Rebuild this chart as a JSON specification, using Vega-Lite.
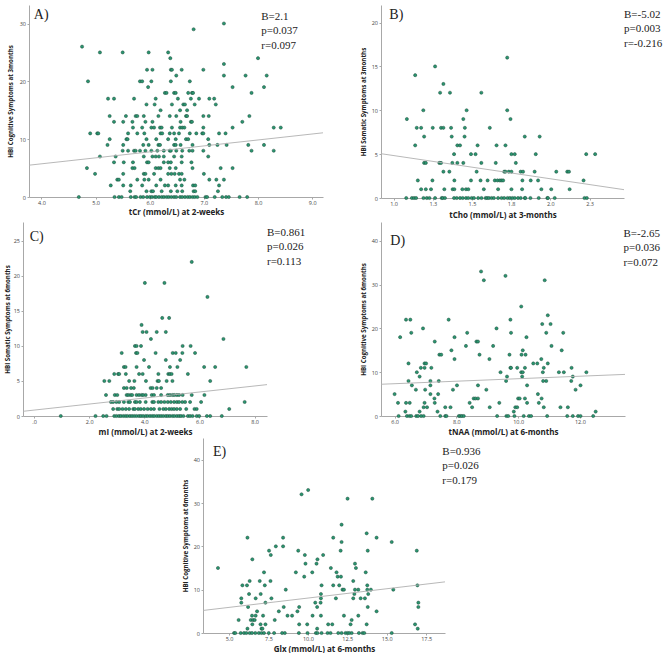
{
"$schema":"https://vega.github.io/schema/vega-lite/v6.json",
"padding":{"left":0,"top":5,"right":0,"bottom":0},
"config":{"view":{"stroke":null},
"axis":{"grid":false,"domainColor":"#a8a8a8","domainWidth":1,"tickColor":"#a8a8a8","tickSize":2,"labelFont":"Open Sans","labelFontSize":5.5,"labelColor":"#444444","labelPadding":1.5,"titleFont":"Open Sans","titleFontWeight":"bold","titleColor":"#222222"},
"axisX":{"titleFontSize":8,"titlePadding":2},
"axisY":{"titleFontSize":6.2,"titlePadding":5}},
"datasets":{
"A":[{"x":7.37,"y":30},{"x":6.81,"y":29},{"x":4.75,"y":26},{"x":5.08,"y":25},{"x":5.5,"y":25},{"x":5.98,"y":25},{"x":6.34,"y":25},{"x":6.38,"y":24},{"x":8.0,"y":24},{"x":7.37,"y":23},
{"x":5.95,"y":22},{"x":6.05,"y":22},{"x":6.39,"y":22},{"x":6.41,"y":22},{"x":6.59,"y":22},{"x":6.99,"y":22},
{"x":6.49,"y":21},{"x":7.37,"y":21},{"x":7.77,"y":21},{"x":8.16,"y":21},
{"x":4.86,"y":20},{"x":5.82,"y":20},{"x":5.86,"y":20},{"x":6.03,"y":20},{"x":6.39,"y":20},{"x":6.74,"y":20},
{"x":5.97,"y":19},{"x":7.53,"y":19},{"x":8.11,"y":19},
{"x":6.28,"y":18},{"x":6.31,"y":18},{"x":6.45,"y":18},{"x":6.48,"y":18},{"x":6.71,"y":18},{"x":6.78,"y":18},{"x":6.8,"y":18},{"x":7.88,"y":18},
{"x":5.23,"y":17},{"x":5.34,"y":17},{"x":5.71,"y":17},{"x":6.11,"y":17},{"x":6.52,"y":17},{"x":6.76,"y":17},{"x":6.91,"y":17},{"x":7.1,"y":17},{"x":7.19,"y":17},
{"x":5.94,"y":16},{"x":6.09,"y":16},{"x":6.41,"y":16},{"x":6.62,"y":16},{"x":6.65,"y":16},{"x":6.83,"y":16},{"x":7.22,"y":16},
{"x":6.2,"y":15},{"x":6.56,"y":15},{"x":6.69,"y":15},
{"x":5.26,"y":14},{"x":5.56,"y":14},{"x":5.74,"y":14},{"x":5.77,"y":14},{"x":5.89,"y":14},{"x":6.16,"y":14},{"x":6.37,"y":14},{"x":6.49,"y":14},{"x":6.67,"y":14},{"x":6.69,"y":14},{"x":6.99,"y":14},{"x":7.09,"y":14},{"x":7.84,"y":14},
{"x":5.34,"y":13},{"x":5.51,"y":13},{"x":5.68,"y":13},{"x":5.92,"y":13},{"x":6.05,"y":13},{"x":6.57,"y":13},{"x":6.76,"y":13},{"x":6.78,"y":13},{"x":7.71,"y":13},
{"x":5.69,"y":12},{"x":5.86,"y":12},{"x":6.03,"y":12},{"x":6.08,"y":12},{"x":6.19,"y":12},{"x":6.22,"y":12},{"x":6.41,"y":12},{"x":6.56,"y":12},{"x":6.6,"y":12},{"x":6.64,"y":12},{"x":6.99,"y":12},{"x":7.53,"y":12},{"x":8.29,"y":12},{"x":8.42,"y":12},
{"x":4.9,"y":11},{"x":5.03,"y":11},{"x":5.05,"y":11},{"x":5.6,"y":11},{"x":5.77,"y":11},{"x":5.9,"y":11},{"x":6.2,"y":11},{"x":6.23,"y":11},{"x":6.37,"y":11},{"x":6.45,"y":11},{"x":6.54,"y":11},{"x":6.74,"y":11},{"x":6.86,"y":11},{"x":6.97,"y":11},{"x":6.99,"y":11},{"x":7.28,"y":11},{"x":7.4,"y":11},
{"x":5.26,"y":10},{"x":5.57,"y":10},{"x":5.59,"y":10},{"x":5.94,"y":10},{"x":6.12,"y":10},{"x":6.34,"y":10},{"x":6.48,"y":10},{"x":6.67,"y":10},{"x":6.71,"y":10},{"x":7.08,"y":10},
{"x":5.22,"y":9},{"x":5.51,"y":9},{"x":5.88,"y":9},{"x":5.98,"y":9},{"x":6.16,"y":9},{"x":6.19,"y":9},{"x":6.45,"y":9},{"x":6.48,"y":9},{"x":6.57,"y":9},{"x":6.79,"y":9},{"x":7.1,"y":9},{"x":7.25,"y":9},{"x":7.42,"y":9},{"x":7.82,"y":9},{"x":8.11,"y":9},
{"x":5.5,"y":8},{"x":5.6,"y":8},{"x":5.71,"y":8},{"x":5.74,"y":8},{"x":5.82,"y":8},{"x":5.92,"y":8},{"x":6.03,"y":8},{"x":6.14,"y":8},{"x":6.26,"y":8},{"x":6.37,"y":8},{"x":6.39,"y":8},{"x":6.49,"y":8},{"x":6.6,"y":8},{"x":6.73,"y":8},{"x":6.79,"y":8},{"x":6.99,"y":8},{"x":7.88,"y":8},{"x":8.29,"y":8},
{"x":5.08,"y":7},{"x":5.37,"y":7},{"x":5.89,"y":7},{"x":6.05,"y":7},{"x":6.11,"y":7},{"x":6.17,"y":7},{"x":6.26,"y":7},{"x":6.45,"y":7},{"x":6.59,"y":7},{"x":7.08,"y":7},
{"x":5.34,"y":6},{"x":5.52,"y":6},{"x":5.69,"y":6},{"x":5.95,"y":6},{"x":5.98,"y":6},{"x":6.26,"y":6},{"x":6.34,"y":6},{"x":6.39,"y":6},{"x":6.59,"y":6},{"x":6.77,"y":6},
{"x":4.84,"y":5},{"x":5.68,"y":5},{"x":5.72,"y":5},{"x":6.11,"y":5},{"x":6.16,"y":5},{"x":6.2,"y":5},{"x":6.37,"y":5},{"x":6.48,"y":5},{"x":6.79,"y":5},{"x":7.31,"y":5},{"x":7.53,"y":5},
{"x":4.99,"y":4},{"x":5.51,"y":4},{"x":5.89,"y":4},{"x":5.92,"y":4},{"x":6.08,"y":4},{"x":6.34,"y":4},{"x":6.4,"y":4},{"x":6.46,"y":4},{"x":6.54,"y":4},{"x":6.59,"y":4},{"x":7.0,"y":4},
{"x":5.4,"y":3},{"x":5.43,"y":3},{"x":5.77,"y":3},{"x":5.9,"y":3},{"x":5.98,"y":3},{"x":6.2,"y":3},{"x":6.56,"y":3},{"x":6.64,"y":3},{"x":7.1,"y":3},{"x":7.23,"y":3},{"x":7.37,"y":3},
{"x":5.28,"y":2},{"x":5.51,"y":2},{"x":5.65,"y":2},{"x":5.86,"y":2},{"x":6.12,"y":2},{"x":6.28,"y":2},{"x":6.34,"y":2},{"x":6.48,"y":2},{"x":6.59,"y":2},{"x":6.8,"y":2},{"x":6.84,"y":2},{"x":7.28,"y":2},
{"x":5.64,"y":1},{"x":5.94,"y":1},{"x":6.03,"y":1},{"x":6.06,"y":1},{"x":6.22,"y":1},{"x":6.39,"y":1},{"x":6.51,"y":1},{"x":6.6,"y":1},{"x":6.81,"y":1},{"x":6.84,"y":1},{"x":7.26,"y":1},
{"x":4.69,"y":0},{"x":5.35,"y":0},{"x":5.43,"y":0},{"x":5.48,"y":0},{"x":5.65,"y":0},{"x":5.72,"y":0},{"x":5.75,"y":0},{"x":5.83,"y":0},{"x":5.88,"y":0},{"x":5.95,"y":0},{"x":6.0,"y":0},{"x":6.04,"y":0},{"x":6.09,"y":0},{"x":6.12,"y":0},{"x":6.17,"y":0},{"x":6.22,"y":0},{"x":6.26,"y":0},{"x":6.31,"y":0},{"x":6.35,"y":0},{"x":6.4,"y":0},{"x":6.45,"y":0},{"x":6.49,"y":0},{"x":6.56,"y":0},{"x":6.6,"y":0},{"x":6.65,"y":0},{"x":6.7,"y":0},{"x":6.74,"y":0},{"x":6.79,"y":0},{"x":6.83,"y":0},{"x":6.88,"y":0},{"x":7.03,"y":0},{"x":7.06,"y":0},{"x":7.2,"y":0},{"x":7.34,"y":0},{"x":7.41,"y":0},{"x":7.46,"y":0},{"x":7.66,"y":0},{"x":7.8,"y":0}],
"B":[{"x":1.725,"y":16},{"x":1.265,"y":15},{"x":1.138,"y":14},{"x":1.318,"y":13},{"x":1.297,"y":12},{"x":1.36,"y":12},{"x":1.56,"y":12},
{"x":1.19,"y":10},{"x":1.466,"y":10},{"x":1.725,"y":10},{"x":1.085,"y":9},{"x":1.445,"y":9},{"x":1.746,"y":9},
{"x":1.148,"y":8},{"x":1.176,"y":8},{"x":1.25,"y":8},{"x":1.303,"y":8},{"x":1.318,"y":8},{"x":1.367,"y":8},{"x":1.455,"y":8},{"x":1.614,"y":8},
{"x":1.195,"y":7},{"x":1.371,"y":7},{"x":1.453,"y":7},{"x":1.837,"y":7},{"x":1.932,"y":7},
{"x":1.138,"y":6},{"x":1.407,"y":6},{"x":1.424,"y":6},{"x":1.536,"y":6},{"x":1.657,"y":6},{"x":1.714,"y":6},
{"x":1.386,"y":5},{"x":1.494,"y":5},{"x":1.523,"y":5},{"x":1.752,"y":5},{"x":1.773,"y":5},{"x":1.907,"y":5},{"x":2.229,"y":5},{"x":2.286,"y":5},
{"x":1.195,"y":4},{"x":1.206,"y":4},{"x":1.292,"y":4},{"x":1.303,"y":4},{"x":1.375,"y":4},{"x":1.407,"y":4},{"x":1.445,"y":4},{"x":1.56,"y":4},{"x":1.652,"y":4},{"x":1.78,"y":4},
{"x":1.318,"y":3},{"x":1.356,"y":3},{"x":1.53,"y":3},{"x":1.706,"y":3},{"x":1.714,"y":3},{"x":1.735,"y":3},{"x":1.752,"y":3},{"x":1.811,"y":3},{"x":1.826,"y":3},{"x":1.9,"y":3},{"x":2.038,"y":3},{"x":2.108,"y":3},{"x":2.119,"y":3},
{"x":1.155,"y":2},{"x":1.248,"y":2},{"x":1.388,"y":2},{"x":1.494,"y":2},{"x":1.555,"y":2},{"x":1.6,"y":2},{"x":1.646,"y":2},{"x":1.663,"y":2},{"x":1.678,"y":2},{"x":1.689,"y":2},{"x":1.699,"y":2},{"x":1.822,"y":2},{"x":1.875,"y":2},{"x":1.922,"y":2},{"x":2.212,"y":2},
{"x":1.176,"y":1},{"x":1.206,"y":1},{"x":1.239,"y":1},{"x":1.324,"y":1},{"x":1.377,"y":1},{"x":1.388,"y":1},{"x":1.439,"y":1},{"x":1.462,"y":1},{"x":1.477,"y":1},{"x":1.576,"y":1},{"x":1.667,"y":1},{"x":1.752,"y":1},{"x":1.82,"y":1},{"x":1.943,"y":1},{"x":2.006,"y":1},{"x":2.123,"y":1},
{"x":1.081,"y":0},{"x":1.117,"y":0},{"x":1.131,"y":0},{"x":1.144,"y":0},{"x":1.191,"y":0},{"x":1.212,"y":0},{"x":1.229,"y":0},{"x":1.265,"y":0},{"x":1.307,"y":0},{"x":1.314,"y":0},{"x":1.328,"y":0},{"x":1.386,"y":0},{"x":1.403,"y":0},{"x":1.424,"y":0},{"x":1.441,"y":0},{"x":1.462,"y":0},{"x":1.477,"y":0},{"x":1.498,"y":0},{"x":1.513,"y":0},{"x":1.54,"y":0},{"x":1.561,"y":0},{"x":1.587,"y":0},{"x":1.597,"y":0},{"x":1.608,"y":0},{"x":1.625,"y":0},{"x":1.64,"y":0},{"x":1.667,"y":0},{"x":1.689,"y":0},{"x":1.706,"y":0},{"x":1.727,"y":0},{"x":1.742,"y":0},{"x":1.758,"y":0},{"x":1.773,"y":0},{"x":1.794,"y":0},{"x":1.811,"y":0},{"x":1.837,"y":0},{"x":1.841,"y":0},{"x":1.873,"y":0},{"x":1.926,"y":0},{"x":1.981,"y":0},{"x":1.985,"y":0},{"x":2.028,"y":0},{"x":2.218,"y":0},{"x":2.233,"y":0}],
"C":[{"x":5.72,"y":22},{"x":4.02,"y":19},{"x":4.73,"y":19},{"x":6.29,"y":17},{"x":4.65,"y":14},{"x":4.9,"y":14},{"x":3.9,"y":13},
{"x":3.94,"y":12},{"x":4.08,"y":12},{"x":4.45,"y":12},{"x":4.78,"y":12},{"x":4.24,"y":11},{"x":6.87,"y":11},
{"x":3.66,"y":10},{"x":3.72,"y":10},{"x":3.88,"y":10},{"x":5.39,"y":10},{"x":5.68,"y":10},
{"x":3.18,"y":9},{"x":3.7,"y":9},{"x":3.75,"y":9},{"x":4.41,"y":9},{"x":5.03,"y":9},{"x":5.14,"y":9},{"x":5.38,"y":9},{"x":5.84,"y":9},
{"x":3.99,"y":8},{"x":4.78,"y":8},{"x":5.3,"y":8},
{"x":3.26,"y":7},{"x":3.32,"y":7},{"x":3.72,"y":7},{"x":4.17,"y":7},{"x":4.93,"y":7},{"x":5.2,"y":7},{"x":6.17,"y":7},{"x":6.57,"y":7},{"x":7.7,"y":7},
{"x":2.91,"y":6},{"x":3.05,"y":6},{"x":3.09,"y":6},{"x":3.33,"y":6},{"x":3.81,"y":6},{"x":3.94,"y":6},{"x":4.51,"y":6},{"x":4.87,"y":6},{"x":4.93,"y":6},{"x":4.99,"y":6},{"x":5.58,"y":6},
{"x":2.55,"y":5},{"x":2.73,"y":5},{"x":3.45,"y":5},{"x":3.64,"y":5},{"x":4.06,"y":5},{"x":4.48,"y":5},{"x":4.53,"y":5},{"x":4.81,"y":5},{"x":5.02,"y":5},{"x":6.39,"y":5},
{"x":3.26,"y":4},{"x":3.36,"y":4},{"x":3.52,"y":4},{"x":3.62,"y":4},{"x":4.23,"y":4},{"x":4.3,"y":4},{"x":4.45,"y":4},{"x":4.61,"y":4},
{"x":2.61,"y":3},{"x":2.93,"y":3},{"x":3.02,"y":3},{"x":3.36,"y":3},{"x":3.42,"y":3},{"x":3.5,"y":3},{"x":3.56,"y":3},{"x":3.72,"y":3},{"x":3.81,"y":3},{"x":3.9,"y":3},{"x":3.96,"y":3},{"x":4.05,"y":3},{"x":4.27,"y":3},{"x":4.35,"y":3},{"x":4.61,"y":3},{"x":4.85,"y":3},{"x":4.93,"y":3},{"x":5.02,"y":3},{"x":5.09,"y":3},{"x":5.18,"y":3},{"x":5.26,"y":3},{"x":5.39,"y":3},{"x":5.72,"y":3},{"x":6.18,"y":3},
{"x":2.79,"y":2},{"x":2.87,"y":2},{"x":2.99,"y":2},{"x":3.09,"y":2},{"x":3.26,"y":2},{"x":3.42,"y":2},{"x":3.48,"y":2},{"x":3.66,"y":2},{"x":3.72,"y":2},{"x":3.84,"y":2},{"x":4.05,"y":2},{"x":4.29,"y":2},{"x":4.35,"y":2},{"x":4.51,"y":2},{"x":4.61,"y":2},{"x":4.73,"y":2},{"x":4.85,"y":2},{"x":4.96,"y":2},{"x":5.08,"y":2},{"x":5.18,"y":2},{"x":5.26,"y":2},{"x":5.38,"y":2},{"x":5.48,"y":2},{"x":5.66,"y":2},{"x":6.06,"y":2},{"x":7.64,"y":2},
{"x":2.87,"y":1},{"x":3.02,"y":1},{"x":3.09,"y":1},{"x":3.21,"y":1},{"x":3.33,"y":1},{"x":3.45,"y":1},{"x":3.6,"y":1},{"x":3.66,"y":1},{"x":3.78,"y":1},{"x":3.87,"y":1},{"x":3.99,"y":1},{"x":4.12,"y":1},{"x":4.24,"y":1},{"x":4.35,"y":1},{"x":4.55,"y":1},{"x":4.69,"y":1},{"x":4.78,"y":1},{"x":4.9,"y":1},{"x":4.99,"y":1},{"x":5.08,"y":1},{"x":5.18,"y":1},{"x":5.3,"y":1},{"x":5.52,"y":1},{"x":5.82,"y":1},{"x":5.9,"y":1},{"x":7.08,"y":1},
{"x":0.97,"y":0},{"x":2.23,"y":0},{"x":2.51,"y":0},{"x":2.63,"y":0},{"x":2.91,"y":0},{"x":2.99,"y":0},{"x":3.08,"y":0},{"x":3.15,"y":0},{"x":3.24,"y":0},{"x":3.32,"y":0},{"x":3.39,"y":0},{"x":3.48,"y":0},{"x":3.56,"y":0},{"x":3.64,"y":0},{"x":3.72,"y":0},{"x":3.81,"y":0},{"x":3.88,"y":0},{"x":3.96,"y":0},{"x":4.05,"y":0},{"x":4.12,"y":0},{"x":4.21,"y":0},{"x":4.29,"y":0},{"x":4.36,"y":0},{"x":4.45,"y":0},{"x":4.53,"y":0},{"x":4.61,"y":0},{"x":4.69,"y":0},{"x":4.78,"y":0},{"x":4.85,"y":0},{"x":4.93,"y":0},{"x":5.02,"y":0},{"x":5.09,"y":0},{"x":5.18,"y":0},{"x":5.26,"y":0},{"x":5.33,"y":0},{"x":5.42,"y":0},{"x":5.58,"y":0},{"x":5.66,"y":0},{"x":5.75,"y":0},{"x":5.9,"y":0},{"x":5.99,"y":0},{"x":6.27,"y":0},{"x":6.39,"y":0},{"x":6.81,"y":0}],
"D":[{"x":8.8,"y":33},{"x":9.59,"y":32},{"x":8.89,"y":31},{"x":10.86,"y":31},{"x":10.1,"y":25},{"x":10.96,"y":23},
{"x":6.37,"y":22},{"x":6.51,"y":22},{"x":7.75,"y":22},{"x":9.75,"y":22},{"x":10.78,"y":21},{"x":11.05,"y":21},{"x":6.92,"y":20},{"x":9.3,"y":20},
{"x":6.54,"y":19},{"x":8.35,"y":19},{"x":9.77,"y":19},{"x":10.91,"y":19},{"x":11.46,"y":19},
{"x":6.18,"y":18},{"x":7.94,"y":18},{"x":10.27,"y":18},{"x":7.3,"y":17},{"x":8.65,"y":17},{"x":8.7,"y":17},
{"x":8.31,"y":16},{"x":9.19,"y":16},{"x":11.08,"y":16},{"x":7.84,"y":15},{"x":10.15,"y":15},{"x":11.41,"y":15},
{"x":7.45,"y":14},{"x":7.51,"y":14},{"x":8.75,"y":14},{"x":9.72,"y":14},{"x":10.11,"y":14},{"x":10.24,"y":14},
{"x":7.94,"y":13},{"x":9.07,"y":13},{"x":10.75,"y":13},
{"x":6.45,"y":12},{"x":6.97,"y":12},{"x":7.02,"y":12},{"x":10.49,"y":12},{"x":10.62,"y":12},{"x":10.96,"y":12},
{"x":6.85,"y":11},{"x":6.97,"y":11},{"x":7.19,"y":11},{"x":9.75,"y":11},{"x":9.77,"y":11},{"x":9.97,"y":11},{"x":10.22,"y":11},{"x":10.83,"y":11},{"x":11.73,"y":11},
{"x":6.72,"y":10},{"x":9.43,"y":10},{"x":10.1,"y":10},{"x":10.15,"y":10},{"x":10.8,"y":10},{"x":11.32,"y":10},{"x":11.48,"y":10},{"x":12.21,"y":10},
{"x":6.81,"y":9},{"x":9.64,"y":9},{"x":10.13,"y":9},{"x":11.77,"y":9},
{"x":6.45,"y":8},{"x":7.16,"y":8},{"x":7.43,"y":8},{"x":9.61,"y":8},{"x":10.81,"y":8},{"x":10.91,"y":8},{"x":11.72,"y":8},
{"x":6.56,"y":7},{"x":7.16,"y":7},{"x":8.02,"y":7},{"x":8.7,"y":7},{"x":10.29,"y":7},{"x":12.02,"y":7},
{"x":6.69,"y":6},{"x":6.99,"y":6},{"x":7.89,"y":6},{"x":8.97,"y":6},{"x":11.86,"y":6},
{"x":6.0,"y":5},{"x":7.16,"y":5},{"x":7.41,"y":5},{"x":10.64,"y":5},
{"x":7.29,"y":4},{"x":8.56,"y":4},{"x":8.62,"y":4},{"x":8.7,"y":4},{"x":10.0,"y":4},{"x":10.05,"y":4},{"x":10.22,"y":4},{"x":10.76,"y":4},
{"x":6.11,"y":3},{"x":6.37,"y":3},{"x":6.49,"y":3},{"x":6.97,"y":3},{"x":7.3,"y":3},{"x":8.43,"y":3},{"x":9.39,"y":3},{"x":10.29,"y":3},{"x":10.67,"y":3},
{"x":6.94,"y":2},{"x":7.05,"y":2},{"x":7.64,"y":2},{"x":7.81,"y":2},{"x":8.51,"y":2},{"x":9.08,"y":2},{"x":9.91,"y":2},{"x":9.97,"y":2},{"x":10.83,"y":2},{"x":11.37,"y":2},{"x":11.61,"y":2},
{"x":6.35,"y":1},{"x":6.81,"y":1},{"x":7.39,"y":1},{"x":9.86,"y":1},{"x":12.51,"y":1},
{"x":6.13,"y":0},{"x":6.4,"y":0},{"x":6.48,"y":0},{"x":6.54,"y":0},{"x":6.7,"y":0},{"x":6.76,"y":0},{"x":6.86,"y":0},{"x":6.94,"y":0},{"x":7.48,"y":0},{"x":7.64,"y":0},{"x":7.68,"y":0},{"x":8.08,"y":0},{"x":8.13,"y":0},{"x":8.18,"y":0},{"x":8.24,"y":0},{"x":9.32,"y":0},{"x":9.62,"y":0},{"x":9.68,"y":0},{"x":9.88,"y":0},{"x":10.18,"y":0},{"x":10.35,"y":0},{"x":10.42,"y":0},{"x":10.94,"y":0},{"x":11.59,"y":0},{"x":11.77,"y":0},{"x":11.94,"y":0},{"x":12.02,"y":0},{"x":12.43,"y":0}],
"E":[{"x":10.02,"y":33},{"x":9.6,"y":32},{"x":12.52,"y":31},{"x":14.09,"y":31},{"x":12.14,"y":25},{"x":13.73,"y":23},
{"x":6.17,"y":22},{"x":8.43,"y":22},{"x":11.61,"y":22},{"x":14.36,"y":22},{"x":12.14,"y":21},{"x":15.32,"y":21},{"x":7.97,"y":20},{"x":8.43,"y":20},
{"x":7.54,"y":19},{"x":9.39,"y":19},{"x":12.08,"y":19},{"x":13.8,"y":19},{"x":16.91,"y":19},
{"x":7.65,"y":18},{"x":9.81,"y":18},{"x":10.97,"y":18},{"x":6.48,"y":17},{"x":10.61,"y":17},
{"x":9.85,"y":16},{"x":10.55,"y":16},{"x":12.99,"y":16},{"x":4.3,"y":15},{"x":11.46,"y":15},{"x":13.05,"y":15},
{"x":7.22,"y":14},{"x":9.24,"y":14},{"x":10.28,"y":14},{"x":11.82,"y":14},{"x":13.67,"y":14},
{"x":9.77,"y":13},{"x":11.89,"y":13},{"x":12.1,"y":13},
{"x":6.31,"y":12},{"x":6.95,"y":12},{"x":7.63,"y":12},{"x":12.88,"y":12},
{"x":5.85,"y":11},{"x":6.14,"y":11},{"x":7.27,"y":11},{"x":10.87,"y":11},{"x":11.61,"y":11},{"x":11.99,"y":11},{"x":13.77,"y":11},{"x":16.95,"y":11},
{"x":8.6,"y":10},{"x":12.2,"y":10},{"x":12.29,"y":10},{"x":12.99,"y":10},{"x":13.2,"y":10},{"x":13.77,"y":10},{"x":14.0,"y":10},{"x":15.42,"y":10},
{"x":6.27,"y":9},{"x":7.01,"y":9},{"x":10.83,"y":9},{"x":12.95,"y":9},{"x":13.83,"y":9},
{"x":5.78,"y":8},{"x":6.69,"y":8},{"x":7.69,"y":8},{"x":10.83,"y":8},{"x":11.78,"y":8},{"x":12.88,"y":8},{"x":13.35,"y":8},{"x":13.62,"y":8},
{"x":5.78,"y":7},{"x":7.31,"y":7},{"x":10.47,"y":7},{"x":10.81,"y":7},{"x":17.01,"y":7},
{"x":6.21,"y":6},{"x":8.47,"y":6},{"x":9.45,"y":6},{"x":10.59,"y":6},{"x":13.8,"y":6},{"x":17.01,"y":6},
{"x":6.78,"y":5},{"x":8.16,"y":5},{"x":9.34,"y":5},{"x":14.36,"y":5},
{"x":6.46,"y":4},{"x":6.69,"y":4},{"x":7.16,"y":4},{"x":8.71,"y":4},{"x":9.0,"y":4},{"x":10.3,"y":4},{"x":10.83,"y":4},{"x":12.29,"y":4},{"x":13.2,"y":4},
{"x":5.61,"y":3},{"x":6.38,"y":3},{"x":6.53,"y":3},{"x":6.63,"y":3},{"x":7.9,"y":3},{"x":12.78,"y":3},
{"x":6.48,"y":2},{"x":7.0,"y":2},{"x":7.31,"y":2},{"x":9.45,"y":2},{"x":9.96,"y":2},{"x":11.29,"y":2},{"x":11.55,"y":2},{"x":12.71,"y":2},{"x":13.73,"y":2},{"x":16.8,"y":2},
{"x":6.17,"y":1},{"x":7.06,"y":1},{"x":7.12,"y":1},{"x":10.59,"y":1},{"x":16.97,"y":1},
{"x":5.32,"y":0},{"x":5.4,"y":0},{"x":5.74,"y":0},{"x":5.95,"y":0},{"x":6.1,"y":0},{"x":6.31,"y":0},{"x":6.46,"y":0},{"x":6.67,"y":0},{"x":6.89,"y":0},{"x":7.06,"y":0},{"x":7.22,"y":0},{"x":7.52,"y":0},{"x":7.86,"y":0},{"x":8.37,"y":0},{"x":8.54,"y":0},{"x":9.43,"y":0},{"x":9.98,"y":0},{"x":10.51,"y":0},{"x":10.61,"y":0},{"x":10.87,"y":0},{"x":11.25,"y":0},{"x":11.44,"y":0},{"x":11.93,"y":0},{"x":12.14,"y":0},{"x":12.39,"y":0},{"x":12.52,"y":0},{"x":12.63,"y":0},{"x":12.78,"y":0},{"x":13.24,"y":0},{"x":13.47,"y":0},{"x":13.58,"y":0},{"x":15.32,"y":0}],
"fits":[{"panel":"A","x":3.77,"y":5.5},{"panel":"A","x":9.2,"y":11.1},{"panel":"B","x":0.92,"y":5.05},{"panel":"B","x":2.47,"y":0.95},{"panel":"C","x":-0.4,"y":0.67},{"panel":"C","x":8.45,"y":4.48},{"panel":"D","x":5.56,"y":7.25},{"panel":"D","x":13.46,"y":9.5},{"panel":"E","x":3.35,"y":5.2},{"panel":"E","x":18.7,"y":11.8}],
"notes":[{"panel":"A","kind":"letter","x":3.86,"y":31.5,"label":"A)"},{"panel":"A","kind":"stats","x":8.06,"y":32.2,"label":"B=2.1\np=0.037\nr=0.097"},
{"panel":"B","kind":"letter","x":0.973,"y":20.9,"label":"B)"},{"panel":"B","kind":"stats","x":2.47,"y":21.6,"label":"B=-5.02\np=0.003\nr=-0.216"},
{"panel":"C","kind":"letter","x":-0.157,"y":25.6,"label":"C)"},{"panel":"C","kind":"stats","x":8.45,"y":27.0,"label":"B=0.861\np=0.026\nr=0.113"},
{"panel":"D","kind":"letter","x":5.86,"y":40.0,"label":"D)"},{"panel":"D","kind":"stats","x":13.41,"y":43.0,"label":"B=-2.65\np=0.036\nr=0.072"},
{"panel":"E","kind":"letter","x":3.98,"y":41.8,"label":"E)"},{"panel":"E","kind":"stats","x":18.53,"y":43.2,"label":"B=0.936\np=0.026\nr=0.179"}]
},
"spacing":0,
"vconcat":[
 {"bounds":"flush","spacing":0,"hconcat":[
  {"width":29,"height":217,"data":{"name":"fits"},"mark":{"type":"text","opacity":0,"fontSize":0,"baseline":"top"}},
  {"width":294,"height":192,
    "encoding":{"x":{"field":"x","type":"quantitative","scale":{"domain":[3.77,9.2],"nice":false,"zero":false},"axis":{"values":[4,5,6,7,8,9],"format":".1f","title":"tCr (mmol/L) at 2-weeks"}},
     "y":{"field":"y","type":"quantitative","scale":{"domain":[0,33.2],"nice":false,"zero":false},"axis":{"values":[0,10,20,30],"format":"d","title":"HBI Cognitive Symptoms at 3months","titlePadding":6}}},
    "layer":[
     {"data":{"name":"A"},"mark":{"type":"circle","size":10,"fill":"#2a9670","stroke":"#1d4a3a","strokeWidth":0.5,"opacity":1}},
     {"data":{"name":"fits"},"transform":[{"filter":"datum.panel=='A'"}],"mark":{"type":"line","color":"#b0b0b0","strokeWidth":0.9},"encoding":{}},
     {"data":{"name":"notes"},"transform":[{"filter":"datum.panel=='A' && datum.kind=='letter'"}],"mark":{"type":"text","font":"Liberation Serif","fontSize":14,"align":"left","baseline":"middle","color":"#222222"},"encoding":{"text":{"field":"label"}}},
     {"data":{"name":"notes"},"transform":[{"filter":"datum.panel=='A' && datum.kind=='stats'"}],"mark":{"type":"text","font":"Liberation Serif","fontSize":11,"align":"left","baseline":"top","lineBreak":"\n","lineHeight":14.5,"color":"#222222"},"encoding":{"text":{"field":"label"}}}
    ]},
  {"width":58,"height":1,"data":{"name":"fits"},"mark":{"type":"text","opacity":0,"fontSize":0,"baseline":"top"}},
  {"width":243,"height":193,
    "encoding":{"x":{"field":"x","type":"quantitative","scale":{"domain":[0.92,2.47],"nice":false,"zero":false},"axis":{"values":[1,1.25,1.5,1.75,2,2.25],"format":".1f","title":"tCho (mmol/L) at 3-months","titlePadding":4}},
     "y":{"field":"y","type":"quantitative","scale":{"domain":[0,22],"nice":false,"zero":false},"axis":{"values":[0,5,10,15,20],"format":"d","title":"HBI Somatic Symptoms at 3months"}}},
    "layer":[
     {"data":{"name":"B"},"mark":{"type":"circle","size":10,"fill":"#2a9670","stroke":"#1d4a3a","strokeWidth":0.5,"opacity":1}},
     {"data":{"name":"fits"},"transform":[{"filter":"datum.panel=='B'"}],"mark":{"type":"line","color":"#b0b0b0","strokeWidth":0.9},"encoding":{}},
     {"data":{"name":"notes"},"transform":[{"filter":"datum.panel=='B' && datum.kind=='letter'"}],"mark":{"type":"text","font":"Liberation Serif","fontSize":14,"align":"left","baseline":"middle","color":"#222222"},"encoding":{"text":{"field":"label"}}},
     {"data":{"name":"notes"},"transform":[{"filter":"datum.panel=='B' && datum.kind=='stats'"}],"mark":{"type":"text","font":"Liberation Serif","fontSize":11,"align":"left","baseline":"top","lineBreak":"\n","lineHeight":14.5,"color":"#222222"},"encoding":{"text":{"field":"label"}}}
    ]}
 ]},
 {"bounds":"flush","spacing":0,"hconcat":[
   {"width":23,"height":216,"data":{"name":"fits"},"mark":{"type":"text","opacity":0,"fontSize":0,"baseline":"top"}},
   {"width":244,"height":194,
    "encoding":{"x":{"field":"x","type":"quantitative","scale":{"domain":[-0.4,8.45],"nice":false,"zero":false},"axis":{"values":[0,2,4,6,8],"labelExpr":"datum.value == 0 ? '.0' : format(datum.value, '.1f')","title":"mI (mmol/L) at 2-weeks","titlePadding":3}},
     "y":{"field":"y","type":"quantitative","scale":{"domain":[0,27.7],"nice":false,"zero":false},"axis":{"values":[0,5,10,15,20,25],"format":"d","title":"HBI Somatic Symptoms at 6months","titlePadding":3}}},
    "layer":[
     {"data":{"name":"C"},"mark":{"type":"circle","size":10,"fill":"#2a9670","stroke":"#1d4a3a","strokeWidth":0.5,"opacity":1}},
     {"data":{"name":"fits"},"transform":[{"filter":"datum.panel=='C'"}],"mark":{"type":"line","color":"#b0b0b0","strokeWidth":0.9},"encoding":{}},
     {"data":{"name":"notes"},"transform":[{"filter":"datum.panel=='C' && datum.kind=='letter'"}],"mark":{"type":"text","font":"Liberation Serif","fontSize":14,"align":"left","baseline":"middle","color":"#222222"},"encoding":{"text":{"field":"label"}}},
     {"data":{"name":"notes"},"transform":[{"filter":"datum.panel=='C' && datum.kind=='stats'"}],"mark":{"type":"text","font":"Liberation Serif","fontSize":11,"align":"left","baseline":"top","lineBreak":"\n","lineHeight":14.5,"color":"#222222"},"encoding":{"text":{"field":"label"}}}
    ]},
   {"width":114,"height":1,"data":{"name":"fits"},"mark":{"type":"text","opacity":0,"fontSize":0,"baseline":"top"}},
   {"width":244,"height":194,
    "encoding":{"x":{"field":"x","type":"quantitative","scale":{"domain":[5.56,13.46],"nice":false,"zero":false},"axis":{"values":[6,8,10,12],"format":".1f","title":"tNAA (mmol/L) at 6-months","titlePadding":3}},
     "y":{"field":"y","type":"quantitative","scale":{"domain":[0,44.3],"nice":false,"zero":false},"axis":{"values":[0,10,20,30,40],"format":"d","title":"HBI Cognitive Symptoms at 6months"}}},
    "layer":[
     {"data":{"name":"D"},"mark":{"type":"circle","size":10,"fill":"#2a9670","stroke":"#1d4a3a","strokeWidth":0.5,"opacity":1}},
     {"data":{"name":"fits"},"transform":[{"filter":"datum.panel=='D'"}],"mark":{"type":"line","color":"#b0b0b0","strokeWidth":0.9},"encoding":{}},
     {"data":{"name":"notes"},"transform":[{"filter":"datum.panel=='D' && datum.kind=='letter'"}],"mark":{"type":"text","font":"Liberation Serif","fontSize":14,"align":"left","baseline":"middle","color":"#222222"},"encoding":{"text":{"field":"label"}}},
     {"data":{"name":"notes"},"transform":[{"filter":"datum.panel=='D' && datum.kind=='stats'"}],"mark":{"type":"text","font":"Liberation Serif","fontSize":11,"align":"left","baseline":"top","lineBreak":"\n","lineHeight":14.5,"color":"#222222"},"encoding":{"text":{"field":"label"}}}
    ]}
 ]},
 {"bounds":"flush","spacing":0,"hconcat":[
  {"width":203,"height":1,"data":{"name":"fits"},"mark":{"type":"text","opacity":0,"fontSize":0,"baseline":"top"}},
  {"width":242,"height":195,
    "encoding":{"x":{"field":"x","type":"quantitative","scale":{"domain":[3.35,18.7],"nice":false,"zero":false},"axis":{"values":[5,7.5,10,12.5,15,17.5],"format":".1f","title":"Glx (mmol/L) at 6-months","titlePadding":3}},
     "y":{"field":"y","type":"quantitative","scale":{"domain":[0,45],"nice":false,"zero":false},"axis":{"values":[0,10,20,30,40],"format":"d","title":"HBI Cognitive Symptoms at 6months"}}},
    "layer":[
     {"data":{"name":"E"},"mark":{"type":"circle","size":10,"fill":"#2a9670","stroke":"#1d4a3a","strokeWidth":0.5,"opacity":1}},
     {"data":{"name":"fits"},"transform":[{"filter":"datum.panel=='E'"}],"mark":{"type":"line","color":"#b0b0b0","strokeWidth":0.9},"encoding":{}},
     {"data":{"name":"notes"},"transform":[{"filter":"datum.panel=='E' && datum.kind=='letter'"}],"mark":{"type":"text","font":"Liberation Serif","fontSize":14,"align":"left","baseline":"middle","color":"#222222"},"encoding":{"text":{"field":"label"}}},
     {"data":{"name":"notes"},"transform":[{"filter":"datum.panel=='E' && datum.kind=='stats'"}],"mark":{"type":"text","font":"Liberation Serif","fontSize":11,"align":"left","baseline":"top","lineBreak":"\n","lineHeight":14.5,"color":"#222222"},"encoding":{"text":{"field":"label"}}}
    ]}
 ]}
]
}
